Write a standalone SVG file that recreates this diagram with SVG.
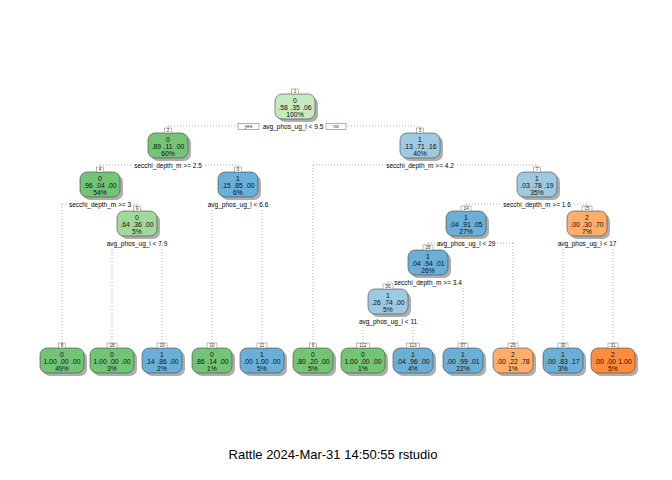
<svg xmlns="http://www.w3.org/2000/svg" width="672" height="480" viewBox="0 0 672 480">
<style>
.sh{fill:#9a9a9a;opacity:0.8}
.bx{stroke:#444;stroke-width:0.6}
.g1{fill:#C7E9C0}.g2{fill:#A1D99B}.g3{fill:#74C476}
.b2{fill:#9ECAE1}.b3{fill:#6BAED6}
.o2{fill:#FDAE6B}.o3{fill:#FD8D3C}
.t{font-family:"Liberation Sans",Arial,sans-serif;font-size:6.8px;fill:#111;text-anchor:middle;word-spacing:0.6px}
.nb{fill:#fff;stroke:#777;stroke-width:0.5}
.nt{font-family:"Liberation Sans",Arial,sans-serif;font-size:4.6px;fill:#333;text-anchor:middle}
.lb{font-family:"Liberation Sans",Arial,sans-serif;font-size:6.5px;fill:#000;text-anchor:middle;stroke:#fff;stroke-width:4;paint-order:stroke;stroke-linejoin:round}
.cn{stroke:#999;stroke-width:0.8;stroke-dasharray:1 2;fill:none}
.yn{fill:#fff;stroke:#666;stroke-width:0.5}
.ynt{font-family:"Liberation Sans",Arial,sans-serif;font-size:5px;fill:#333;text-anchor:middle}
.title{font-family:"Liberation Sans",Arial,sans-serif;font-size:13px;fill:#000;text-anchor:middle}
</style>
<rect width="672" height="480" fill="#fff"/>
<g id="connectors">
<path class="cn" d="M168 126H420M168 126V128M420 126V128"/>
<path class="cn" d="M100 165H238M100 165V167M238 165V167"/>
<path class="cn" d="M313 165H537M313 165V343M537 165V167"/>
<path class="cn" d="M62 204H137M62 204V343M137 204V206"/>
<path class="cn" d="M212 204H262M212 204V343M262 204V343"/>
<path class="cn" d="M466 204H587M466 204V206M587 204V206"/>
<path class="cn" d="M112 243H162M112 243V343M162 243V343"/>
<path class="cn" d="M428 243H513M428 243V245M513 243V343"/>
<path class="cn" d="M563 243H613M563 243V343M613 243V343"/>
<path class="cn" d="M388 282H463M388 282V284M463 282V343"/>
<path class="cn" d="M363 321H413M363 321V343M413 321V343"/>
</g>
<g id="node1">
<rect class="sh" x="278" y="97" width="40" height="25" rx="7"/>
<rect class="bx g1" x="275" y="94" width="40" height="25" rx="7"/>
<rect class="nb" x="291.5" y="89" width="7" height="5"/><text class="nt" x="295" y="93.2">1</text>
<text class="t" x="295" y="102.5">0</text><text class="t" x="295" y="110">.58 .35 .06</text><text class="t" x="295" y="117.3">100%</text>
<rect class="yn" x="238" y="123.5" width="21" height="6"/><text class="ynt" x="248.5" y="128.3">yes</text>
<rect class="yn" x="326" y="123.5" width="20" height="6"/><text class="ynt" x="336" y="128.3">no</text>
<text class="lb" x="293" y="128.5">avg_phos_ug_l &lt; 9.5</text>
</g>
<g id="node2">
<rect class="sh" x="151" y="136" width="40" height="25" rx="7"/>
<rect class="bx g3" x="148" y="133" width="40" height="25" rx="7"/>
<rect class="nb" x="164.5" y="128" width="7" height="5"/><text class="nt" x="168" y="132.2">2</text>
<text class="t" x="168" y="141.5">0</text><text class="t" x="168" y="149">.89 .11 .00</text><text class="t" x="168" y="156.3">60%</text>
<text class="lb" x="168" y="167.5">secchi_depth_m &gt;= 2.5</text>
</g>
<g id="node3">
<rect class="sh" x="403" y="136" width="40" height="25" rx="7"/>
<rect class="bx b2" x="400" y="133" width="40" height="25" rx="7"/>
<rect class="nb" x="416.5" y="128" width="7" height="5"/><text class="nt" x="420" y="132.2">3</text>
<text class="t" x="420" y="141.5">1</text><text class="t" x="420" y="149">.13 .71 .16</text><text class="t" x="420" y="156.3">40%</text>
<text class="lb" x="420" y="167.5">secchi_depth_m &gt;= 4.2</text>
</g>
<g id="node4">
<rect class="sh" x="83" y="175" width="40" height="25" rx="7"/>
<rect class="bx g3" x="80" y="172" width="40" height="25" rx="7"/>
<rect class="nb" x="96.5" y="167" width="7" height="5"/><text class="nt" x="100" y="171.2">4</text>
<text class="t" x="100" y="180.5">0</text><text class="t" x="100" y="188">.96 .04 .00</text><text class="t" x="100" y="195.3">54%</text>
<text class="lb" x="100" y="206.5">secchi_depth_m &gt;= 3</text>
</g>
<g id="node5">
<rect class="sh" x="221" y="175" width="40" height="25" rx="7"/>
<rect class="bx b3" x="218" y="172" width="40" height="25" rx="7"/>
<rect class="nb" x="234.5" y="167" width="7" height="5"/><text class="nt" x="238" y="171.2">5</text>
<text class="t" x="238" y="180.5">1</text><text class="t" x="238" y="188">.15 .85 .00</text><text class="t" x="238" y="195.3">6%</text>
<text class="lb" x="238" y="206.5">avg_phos_ug_l &lt; 6.6</text>
</g>
<g id="node7">
<rect class="sh" x="520" y="175" width="40" height="25" rx="7"/>
<rect class="bx b2" x="517" y="172" width="40" height="25" rx="7"/>
<rect class="nb" x="533.5" y="167" width="7" height="5"/><text class="nt" x="537" y="171.2">7</text>
<text class="t" x="537" y="180.5">1</text><text class="t" x="537" y="188">.03 .78 .19</text><text class="t" x="537" y="195.3">35%</text>
<text class="lb" x="537" y="206.5">secchi_depth_m &gt;= 1.6</text>
</g>
<g id="node9">
<rect class="sh" x="120" y="214" width="40" height="25" rx="7"/>
<rect class="bx g2" x="117" y="211" width="40" height="25" rx="7"/>
<rect class="nb" x="133.5" y="206" width="7" height="5"/><text class="nt" x="137" y="210.2">9</text>
<text class="t" x="137" y="219.5">0</text><text class="t" x="137" y="227">.64 .36 .00</text><text class="t" x="137" y="234.3">5%</text>
<text class="lb" x="137" y="245.5">avg_phos_ug_l &lt; 7.9</text>
</g>
<g id="node14">
<rect class="sh" x="449" y="214" width="40" height="25" rx="7"/>
<rect class="bx b3" x="446" y="211" width="40" height="25" rx="7"/>
<rect class="nb" x="461" y="206" width="10" height="5"/><text class="nt" x="466" y="210.2">14</text>
<text class="t" x="466" y="219.5">1</text><text class="t" x="466" y="227">.04 .91 .05</text><text class="t" x="466" y="234.3">27%</text>
<text class="lb" x="466" y="245.5">avg_phos_ug_l &lt; 29</text>
</g>
<g id="node15">
<rect class="sh" x="570" y="214" width="40" height="25" rx="7"/>
<rect class="bx o2" x="567" y="211" width="40" height="25" rx="7"/>
<rect class="nb" x="582" y="206" width="10" height="5"/><text class="nt" x="587" y="210.2">15</text>
<text class="t" x="587" y="219.5">2</text><text class="t" x="587" y="227">.00 .30 .70</text><text class="t" x="587" y="234.3">7%</text>
<text class="lb" x="587" y="245.5">avg_phos_ug_l &lt; 17</text>
</g>
<g id="node28">
<rect class="sh" x="411" y="253" width="40" height="25" rx="7"/>
<rect class="bx b3" x="408" y="250" width="40" height="25" rx="7"/>
<rect class="nb" x="423" y="245" width="10" height="5"/><text class="nt" x="428" y="249.2">28</text>
<text class="t" x="428" y="258.5">1</text><text class="t" x="428" y="266">.04 .94 .01</text><text class="t" x="428" y="273.3">26%</text>
<text class="lb" x="428" y="284.5">secchi_depth_m &gt;= 3.4</text>
</g>
<g id="node56">
<rect class="sh" x="371" y="292" width="40" height="25" rx="7"/>
<rect class="bx b2" x="368" y="289" width="40" height="25" rx="7"/>
<rect class="nb" x="383" y="284" width="10" height="5"/><text class="nt" x="388" y="288.2">56</text>
<text class="t" x="388" y="297.5">1</text><text class="t" x="388" y="305">.26 .74 .00</text><text class="t" x="388" y="312.3">5%</text>
<text class="lb" x="388" y="323.5">avg_phos_ug_l &lt; 11</text>
</g>
<g id="node8">
<rect class="sh" x="43" y="351" width="44" height="25" rx="7"/>
<rect class="bx g3" x="40" y="348" width="44" height="25" rx="7"/>
<rect class="nb" x="58.5" y="343" width="7" height="5"/><text class="nt" x="62" y="347.2">8</text>
<text class="t" x="62" y="356.5">0</text><text class="t" x="62" y="364">1.00 .00 .00</text><text class="t" x="62" y="371.3">49%</text>
</g>
<g id="node18">
<rect class="sh" x="93" y="351" width="44" height="25" rx="7"/>
<rect class="bx g3" x="90" y="348" width="44" height="25" rx="7"/>
<rect class="nb" x="107" y="343" width="10" height="5"/><text class="nt" x="112" y="347.2">18</text>
<text class="t" x="112" y="356.5">0</text><text class="t" x="112" y="364">1.00 .00 .00</text><text class="t" x="112" y="371.3">3%</text>
</g>
<g id="node19">
<rect class="sh" x="145" y="351" width="40" height="25" rx="7"/>
<rect class="bx b3" x="142" y="348" width="40" height="25" rx="7"/>
<rect class="nb" x="157" y="343" width="10" height="5"/><text class="nt" x="162" y="347.2">19</text>
<text class="t" x="162" y="356.5">1</text><text class="t" x="162" y="364">.14 .86 .00</text><text class="t" x="162" y="371.3">2%</text>
</g>
<g id="node10">
<rect class="sh" x="195" y="351" width="40" height="25" rx="7"/>
<rect class="bx g3" x="192" y="348" width="40" height="25" rx="7"/>
<rect class="nb" x="207" y="343" width="10" height="5"/><text class="nt" x="212" y="347.2">10</text>
<text class="t" x="212" y="356.5">0</text><text class="t" x="212" y="364">.86 .14 .00</text><text class="t" x="212" y="371.3">1%</text>
</g>
<g id="node11">
<rect class="sh" x="243" y="351" width="44" height="25" rx="7"/>
<rect class="bx b3" x="240" y="348" width="44" height="25" rx="7"/>
<rect class="nb" x="257" y="343" width="10" height="5"/><text class="nt" x="262" y="347.2">11</text>
<text class="t" x="262" y="356.5">1</text><text class="t" x="262" y="364">.00 1.00 .00</text><text class="t" x="262" y="371.3">5%</text>
</g>
<g id="node6">
<rect class="sh" x="296" y="351" width="40" height="25" rx="7"/>
<rect class="bx g3" x="293" y="348" width="40" height="25" rx="7"/>
<rect class="nb" x="309.5" y="343" width="7" height="5"/><text class="nt" x="313" y="347.2">6</text>
<text class="t" x="313" y="356.5">0</text><text class="t" x="313" y="364">.80 .20 .00</text><text class="t" x="313" y="371.3">5%</text>
</g>
<g id="node112">
<rect class="sh" x="344" y="351" width="44" height="25" rx="7"/>
<rect class="bx g3" x="341" y="348" width="44" height="25" rx="7"/>
<rect class="nb" x="356.5" y="343" width="13" height="5"/><text class="nt" x="363" y="347.2">112</text>
<text class="t" x="363" y="356.5">0</text><text class="t" x="363" y="364">1.00 .00 .00</text><text class="t" x="363" y="371.3">1%</text>
</g>
<g id="node113">
<rect class="sh" x="396" y="351" width="40" height="25" rx="7"/>
<rect class="bx b3" x="393" y="348" width="40" height="25" rx="7"/>
<rect class="nb" x="406.5" y="343" width="13" height="5"/><text class="nt" x="413" y="347.2">113</text>
<text class="t" x="413" y="356.5">1</text><text class="t" x="413" y="364">.04 .96 .00</text><text class="t" x="413" y="371.3">4%</text>
</g>
<g id="node57">
<rect class="sh" x="446" y="351" width="40" height="25" rx="7"/>
<rect class="bx b3" x="443" y="348" width="40" height="25" rx="7"/>
<rect class="nb" x="458" y="343" width="10" height="5"/><text class="nt" x="463" y="347.2">57</text>
<text class="t" x="463" y="356.5">1</text><text class="t" x="463" y="364">.00 .99 .01</text><text class="t" x="463" y="371.3">22%</text>
</g>
<g id="node29">
<rect class="sh" x="496" y="351" width="40" height="25" rx="7"/>
<rect class="bx o2" x="493" y="348" width="40" height="25" rx="7"/>
<rect class="nb" x="508" y="343" width="10" height="5"/><text class="nt" x="513" y="347.2">29</text>
<text class="t" x="513" y="356.5">2</text><text class="t" x="513" y="364">.00 .22 .78</text><text class="t" x="513" y="371.3">1%</text>
</g>
<g id="node30">
<rect class="sh" x="546" y="351" width="40" height="25" rx="7"/>
<rect class="bx b3" x="543" y="348" width="40" height="25" rx="7"/>
<rect class="nb" x="558" y="343" width="10" height="5"/><text class="nt" x="563" y="347.2">30</text>
<text class="t" x="563" y="356.5">1</text><text class="t" x="563" y="364">.00 .83 .17</text><text class="t" x="563" y="371.3">3%</text>
</g>
<g id="node31">
<rect class="sh" x="594" y="351" width="44" height="25" rx="7"/>
<rect class="bx o3" x="591" y="348" width="44" height="25" rx="7"/>
<rect class="nb" x="608" y="343" width="10" height="5"/><text class="nt" x="613" y="347.2">31</text>
<text class="t" x="613" y="356.5">2</text><text class="t" x="613" y="364">.00 .00 1.00</text><text class="t" x="613" y="371.3">5%</text>
</g>
<text class="title" x="333" y="459">Rattle 2024-Mar-31 14:50:55 rstudio</text>
</svg>
